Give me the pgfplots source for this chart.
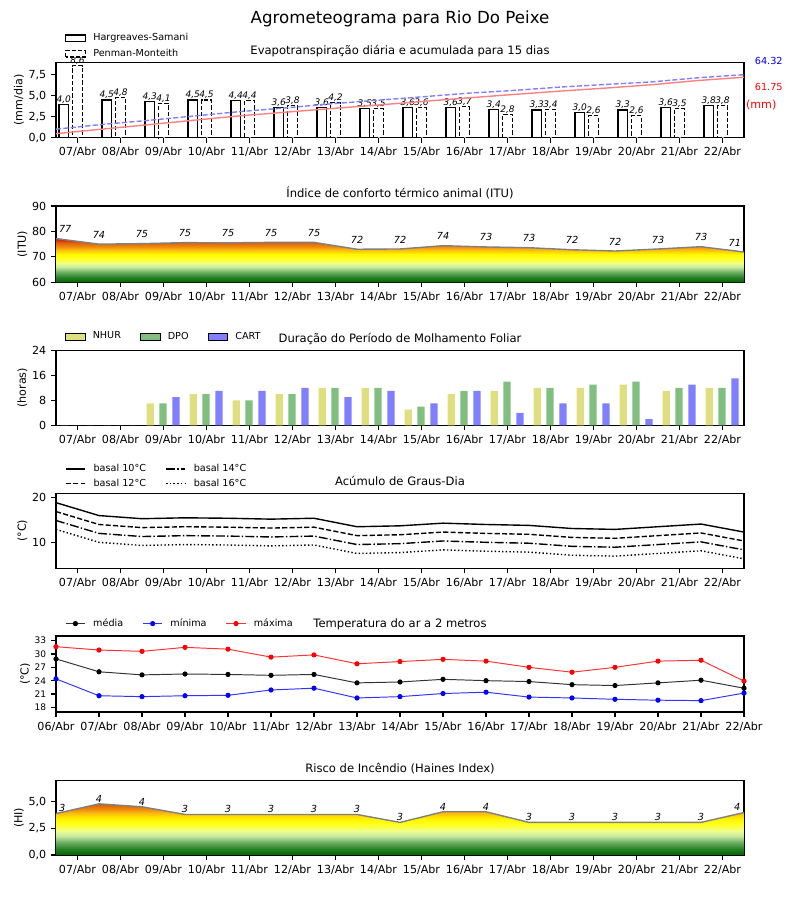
\documentclass[border=0pt]{standalone}
\usepackage{fontspec}
\setmainfont{DejaVu Sans}
\usepackage{pgfplots}
\pgfplotsset{compat=1.18}
\usepackage{pgfplotstable}

\definecolor{nhur}{RGB}{223,223,128}
\definecolor{dpo}{RGB}{128,191,128}
\definecolor{cart}{RGB}{128,128,255}
\definecolor{cumb}{RGB}{128,128,255}
\definecolor{cumr}{RGB}{255,128,128}
\definecolor{outl}{RGB}{128,128,128}
\definecolor{g0}{RGB}{0,100,0}
\definecolor{g1}{RGB}{40,130,40}
\definecolor{g2}{RGB}{110,175,100}
\definecolor{g3}{RGB}{200,235,160}
\definecolor{g4}{RGB}{240,255,140}
\definecolor{g5}{RGB}{255,255,40}
\definecolor{g6}{RGB}{255,250,0}
\definecolor{g7}{RGB}{255,215,0}
\definecolor{g8}{RGB}{250,180,20}
\definecolor{g9}{RGB}{240,140,10}
\definecolor{g10}{RGB}{225,100,10}
\definecolor{g11}{RGB}{205,20,0}
\definecolor{h10}{RGB}{215,90,10}

\pgfdeclareverticalshading{itushade}{100bp}{color(0bp)=(g0); color(25bp)=(g0); color(30.81bp)=(g1); color(36.63bp)=(g2); color(42.44bp)=(g3); color(46.8bp)=(g4); color(51.16bp)=(g5); color(56.98bp)=(g6); color(59.88bp)=(g7); color(62.79bp)=(g8); color(65.7bp)=(g9); color(70.06bp)=(g10); color(75bp)=(g11); color(100bp)=(g11)}
\pgfdeclareverticalshading{hishade}{100bp}{color(0bp)=(g0); color(25bp)=(g0); color(31.2bp)=(g1); color(37.4bp)=(g2); color(43.7bp)=(g3); color(48.9bp)=(g4); color(54bp)=(g5); color(59.2bp)=(g6); color(63.4bp)=(g7); color(66.5bp)=(g8); color(69.6bp)=(g9); color(75bp)=(h10); color(100bp)=(h10)}

\pgfplotsset{
  base/.style={
    scale only axis, width=495.36pt, anchor=south west,
    xmin=-0.5, xmax=15.5,
    tick align=outside, major tick length=3.5pt, tick pos=left,
    tick style={line width=0.8pt, black},
    axis line style={line width=0.8pt},
    ticklabel style={font=\fontsize{8}{9.6}\selectfont},
    /pgf/number format/assume math mode=true,
    every axis title/.style={at={(0.5,1)}, anchor=base, yshift=5.8pt, font=\fontsize{8.33}{10}\selectfont},
    ylabel style={font=\fontsize{8}{9.6}\selectfont},
    ylabel shift=-3.5pt,
    xtick={0,...,15},
    xticklabels={07/Abr,08/Abr,09/Abr,10/Abr,11/Abr,12/Abr,13/Abr,14/Abr,15/Abr,16/Abr,17/Abr,18/Abr,19/Abr,20/Abr,21/Abr,22/Abr},
    legend style={draw=none, fill=none, at={(0,1)}, anchor=south west, xshift=6.48pt, inner sep=0pt,
      font=\fontsize{6.94}{8}\selectfont, cells={anchor=west},
      /tikz/every even column/.append style={column sep=13.9pt},
      /tikz/every odd column/.append style={column sep=5.5pt},
      nodes={inner sep=0pt}},
  },
  commay/.style={yticklabel style={/pgf/number format/.cd, fixed, fixed zerofill, precision=1, use comma}},
  linelegend/.style={legend image code/.code={\draw[##1] (0pt,0pt) -- (13.9pt,0pt);}},
  marklegend/.style={legend image code/.code={\draw[mark repeat=2, mark phase=2, ##1] plot coordinates {(0pt,0pt) (6.95pt,0pt) (13.9pt,0pt)};}},
  patchlegend/.style={legend image code/.code={\draw[##1] (0pt,-2.4pt) rectangle (13.9pt,2.4pt);}},
  barlab/.style={draw=none, mark=none, forget plot, point meta=y,
    nodes near coords={\pgfmathprintnumber[fixed, fixed zerofill, precision=1, use comma]{\pgfplotspointmeta}},
    nodes near coords style={font=\fontsize{6.5}{7}\selectfont\itshape, anchor=south, inner sep=0.6pt}},
}

\begin{document}
\begin{tikzpicture}
\useasboundingbox (0,0) rectangle (576pt,648pt);
\node[font=\fontsize{12}{14}\selectfont, anchor=base] at (288pt,631.4pt) {Agrometeograma para Rio Do Peixe};

% ---------- Panel 1: Evapotranspiration ----------
\begin{axis}[base, at={(40.32pt,548.86pt)}, height=54.29pt,
  ymin=0, ymax=9, ytick={0,2.5,5,7.5}, commay,
  ylabel={(mm/dia)}, title={Evapotranspiração diária e acumulada para 15 dias},
  clip=false, legend style={yshift=2.6pt, row sep=4.3pt}]
\addplot[ybar, bar width=0.22, bar shift=-0.32, draw=black, fill=white, line width=0.8pt, patchlegend] coordinates {
(0,4.0) (1,4.5) (2,4.3) (3,4.5) (4,4.4) (5,3.6) (6,3.6) (7,3.5) (8,3.6) (9,3.6) (10,3.4) (11,3.3) (12,3.0) (13,3.3) (14,3.6) (15,3.8)};
\addplot[ybar, bar width=0.22, bar shift=0, draw=black, fill=white, line width=0.8pt, dash pattern=on 3pt off 1.5pt, patchlegend] coordinates {
(0,8.6) (1,4.8) (2,4.1) (3,4.5) (4,4.4) (5,3.8) (6,4.2) (7,3.5) (8,3.6) (9,3.7) (10,2.8) (11,3.4) (12,2.6) (13,2.6) (14,3.5) (15,3.8)};
\legend{Hargreaves-Samani, Penman-Monteith}
\addplot[barlab] coordinates {
(-0.32,4.0) (0.68,4.5) (1.68,4.3) (2.68,4.5) (3.68,4.4) (4.68,3.6) (5.68,3.6) (6.68,3.5) (7.68,3.6) (8.68,3.6) (9.68,3.4) (10.68,3.3) (11.68,3.0) (12.68,3.3) (13.68,3.6) (14.68,3.8)};
\addplot[barlab] coordinates {
(0,8.6) (1,4.8) (2,4.1) (3,4.5) (4,4.4) (5,3.8) (6,4.2) (7,3.5) (8,3.6) (9,3.7) (10,2.8) (11,3.4) (12,2.6) (13,2.6) (14,3.5) (15,3.8)};
\end{axis}
\begin{axis}[scale only axis, width=495.36pt, height=54.29pt, anchor=south west, at={(40.32pt,548.86pt)},
  xmin=-0.5, xmax=15.5, ymin=0, ymax=77, hide axis, clip=false]
\addplot[cumb, dash pattern=on 3.7pt off 1.6pt, line width=1pt] coordinates {
(-0.5,8.7) (0.567,13.5) (1.633,17.6) (2.7,22.1) (3.767,26.6) (4.833,30.4) (5.9,34.6) (6.967,38.2) (8.033,41.8) (9.1,45.5) (10.167,48.3) (11.233,51.7) (12.3,54.4) (13.367,57.0) (14.433,61.2) (15.5,64.32)};
\addplot[cumr, line width=1pt] coordinates {
(-0.5,4.1) (0.567,8.7) (1.633,13.2) (2.7,17.8) (3.767,22.3) (4.833,26.0) (5.9,29.7) (6.967,33.3) (8.033,37.0) (9.1,40.7) (10.167,44.2) (11.233,47.6) (12.3,50.7) (13.367,54.1) (14.433,58.4) (15.5,61.75)};
\node[font=\fontsize{7}{8}\selectfont, text=blue] at (rel axis cs:1.036,1.017) {64.32};
\node[font=\fontsize{7}{8}\selectfont, text=red] at (rel axis cs:1.036,0.672) {61.75};
\node[font=\fontsize{8}{9.6}\selectfont, text=red] at (rel axis cs:1.025,0.433) {(mm)};
\end{axis}

% ---------- Panel 2: ITU ----------
\begin{axis}[base, at={(40.32pt,444.74pt)}, height=54.94pt,
  ymin=60, ymax=90, ytick={60,70,80,90},
  ylabel={(ITU)}, title={Índice de conforto térmico animal (ITU)}]
\addplot[draw=none, shading=itushade] coordinates {
(-0.5,60) (-0.5,77.2) (0.5,75.0) (1.5,75.2) (2.5,75.6) (3.5,75.5) (4.5,75.7) (5.5,75.7) (6.5,73.0) (7.5,73.1) (8.5,74.4) (9.5,73.9) (10.5,73.6) (11.5,72.8) (12.5,72.3) (13.5,73.1) (14.5,74.0) (15.5,71.9) (15.5,60)};
\addplot[outl, line width=1pt] coordinates {
(-0.5,77.2) (0.5,75.0) (1.5,75.2) (2.5,75.6) (3.5,75.5) (4.5,75.7) (5.5,75.7) (6.5,73.0) (7.5,73.1) (8.5,74.4) (9.5,73.9) (10.5,73.6) (11.5,72.8) (12.5,72.3) (13.5,73.1) (14.5,74.0) (15.5,71.9)};
\addplot[draw=none, mark=none, nodes near coords, point meta=explicit symbolic,
  nodes near coords style={font=\fontsize{7}{8}\selectfont\itshape, anchor=south, inner sep=0pt, yshift=4pt}]
  table[x=x, y=y, meta=l] {
x y l
0.5 75.0 74
1.5 75.2 75
2.5 75.6 75
3.5 75.5 75
4.5 75.7 75
5.5 75.7 75
6.5 73.0 72
7.5 73.1 72
8.5 74.4 74
9.5 73.9 73
10.5 73.6 73
11.5 72.8 72
12.5 72.3 72
13.5 73.1 73
14.5 74.0 73
};
\addplot[draw=none, mark=none, nodes near coords, point meta=explicit symbolic,
  nodes near coords style={font=\fontsize{7}{8}\selectfont\itshape, anchor=south west, inner sep=0pt, yshift=4pt, xshift=2pt}]
  table[x=x, y=y, meta=l] {
x y l
-0.5 77.2 77
};
\addplot[draw=none, mark=none, nodes near coords, point meta=explicit symbolic,
  nodes near coords style={font=\fontsize{7}{8}\selectfont\itshape, anchor=south east, inner sep=0pt, yshift=4pt, xshift=-2pt}]
  table[x=x, y=y, meta=l] {
x y l
15.5 71.9 71
};
\end{axis}

% ---------- Panel 3: Leaf wetness ----------
\begin{axis}[base, at={(40.32pt,341.78pt)}, height=54pt,
  ymin=0, ymax=24, ytick={0,8,16,24},
  ylabel={(horas)}, title={Duração do Período de Molhamento Foliar},
  legend columns=3, legend style={yshift=6.4pt}]
\addplot[ybar, bar width=0.17, bar shift=-0.31, fill=nhur, draw=none, patchlegend] coordinates {
(0,0) (1,0) (2,7) (3,10) (4,8) (5,10) (6,12) (7,12) (8,5) (9,10) (10,11) (11,12) (12,12) (13,13) (14,11) (15,12)};
\addplot[ybar, bar width=0.17, bar shift=-0.01, fill=dpo, draw=none, patchlegend] coordinates {
(0,0) (1,0) (2,7) (3,10) (4,8) (5,10) (6,12) (7,12) (8,6) (9,11) (10,14) (11,12) (12,13) (13,14) (14,12) (15,12)};
\addplot[ybar, bar width=0.17, bar shift=0.29, fill=cart, draw=none, patchlegend] coordinates {
(0,0) (1,0) (2,9) (3,11) (4,11) (5,12) (6,9) (7,11) (8,7) (9,11) (10,4) (11,7) (12,7) (13,2) (14,13) (15,15)};
\legend{NHUR, DPO, CART}
\end{axis}

% ---------- Panel 4: Degree days ----------
\begin{axis}[base, at={(40.32pt,238.82pt)}, height=54pt,
  ymin=4.17, ymax=21, ytick={10,20},
  ylabel={(°C)}, title={Acúmulo de Graus-Dia},
  legend columns=2, legend style={yshift=3.3pt, row sep=3.8pt}]
\addplot[black, line width=1pt, linelegend] coordinates {
(-0.5,18.9) (0.5,16.0) (1.5,15.3) (2.5,15.5) (3.5,15.4) (4.5,15.2) (5.5,15.4) (6.5,13.5) (7.5,13.7) (8.5,14.3) (9.5,14.0) (10.5,13.8) (11.5,13.1) (12.5,12.9) (13.5,13.5) (14.5,14.1) (15.5,12.3)};
\addplot[black, line width=1pt, dash pattern=on 6.4pt off 1.6pt on 1pt off 1.6pt, linelegend] coordinates {
(-0.5,14.9) (0.5,12.0) (1.5,11.3) (2.5,11.5) (3.5,11.4) (4.5,11.2) (5.5,11.4) (6.5,9.5) (7.5,9.7) (8.5,10.3) (9.5,10.0) (10.5,9.8) (11.5,9.1) (12.5,8.9) (13.5,9.5) (14.5,10.1) (15.5,8.3)};
\addplot[black, line width=1pt, dash pattern=on 3.7pt off 1.6pt, linelegend] coordinates {
(-0.5,16.9) (0.5,14.0) (1.5,13.3) (2.5,13.5) (3.5,13.4) (4.5,13.2) (5.5,13.4) (6.5,11.5) (7.5,11.7) (8.5,12.3) (9.5,12.0) (10.5,11.8) (11.5,11.1) (12.5,10.9) (13.5,11.5) (14.5,12.1) (15.5,10.3)};
\addplot[black, line width=1pt, dash pattern=on 1pt off 1.65pt, linelegend] coordinates {
(-0.5,12.9) (0.5,10.0) (1.5,9.3) (2.5,9.5) (3.5,9.4) (4.5,9.2) (5.5,9.4) (6.5,7.5) (7.5,7.7) (8.5,8.3) (9.5,8.0) (10.5,7.8) (11.5,7.1) (12.5,6.9) (13.5,7.5) (14.5,8.1) (15.5,6.3)};
\legend{basal 10°C, basal 14°C, basal 12°C, basal 16°C}
\end{axis}

% ---------- Panel 5: Temperature ----------
\begin{axis}[base, at={(40.32pt,135.36pt)}, height=54.72pt,
  ymin=16.94, ymax=34.06, ytick={18,21,24,27,30,33},
  yticklabel style={font=\fontsize{6.5}{7.5}\selectfont},
  xtick={-0.5,0.5,1.5,2.5,3.5,4.5,5.5,6.5,7.5,8.5,9.5,10.5,11.5,12.5,13.5,14.5,15.5},
  xticklabels={06/Abr,07/Abr,08/Abr,09/Abr,10/Abr,11/Abr,12/Abr,13/Abr,14/Abr,15/Abr,16/Abr,17/Abr,18/Abr,19/Abr,20/Abr,21/Abr,22/Abr},
  ylabel={(°C)}, title={Temperatura do ar a 2 metros},
  legend columns=3, legend style={yshift=5.2pt}]
\addplot[black!80, line width=0.7pt, mark=*, mark size=1.5pt, mark options={solid, fill=black, draw=black}, marklegend] coordinates {
(-0.5,28.9) (0.5,26.0) (1.5,25.3) (2.5,25.5) (3.5,25.4) (4.5,25.2) (5.5,25.4) (6.5,23.5) (7.5,23.7) (8.5,24.3) (9.5,24.0) (10.5,23.8) (11.5,23.1) (12.5,22.9) (13.5,23.5) (14.5,24.1) (15.5,22.3)};
\addplot[blue!80, line width=0.7pt, mark=*, mark size=1.5pt, mark options={solid, fill=blue, draw=blue}, marklegend] coordinates {
(-0.5,24.4) (0.5,20.6) (1.5,20.4) (2.5,20.6) (3.5,20.7) (4.5,21.9) (5.5,22.3) (6.5,20.1) (7.5,20.4) (8.5,21.1) (9.5,21.4) (10.5,20.3) (11.5,20.1) (12.5,19.8) (13.5,19.6) (14.5,19.5) (15.5,21.2)};
\addplot[red!80, line width=0.7pt, mark=*, mark size=1.5pt, mark options={solid, fill=red, draw=red}, marklegend] coordinates {
(-0.5,31.65) (0.5,30.9) (1.5,30.6) (2.5,31.5) (3.5,31.1) (4.5,29.3) (5.5,29.8) (6.5,27.8) (7.5,28.3) (8.5,28.8) (9.5,28.4) (10.5,27.0) (11.5,25.9) (12.5,27.0) (13.5,28.4) (14.5,28.6) (15.5,23.9)};
\legend{média, mínima, máxima}
\end{axis}

% ---------- Panel 6: Haines ----------
\begin{axis}[base, at={(40.32pt,32.4pt)}, height=53.5pt,
  ymin=0, ymax=7, ytick={0,2.5,5}, commay,
  ylabel={(HI)}, title={Risco de Incêndio (Haines Index)}]
\addplot[draw=none, shading=hishade] coordinates {
(-0.5,0) (-0.5,3.9) (0.5,4.82) (1.5,4.54) (2.5,3.82) (3.5,3.82) (4.5,3.82) (5.5,3.82) (6.5,3.82) (7.5,3.07) (8.5,4.07) (9.5,4.07) (10.5,3.07) (11.5,3.07) (12.5,3.07) (13.5,3.07) (14.5,3.07) (15.5,4.0) (15.5,0)};
\addplot[outl, line width=1pt] coordinates {
(-0.5,3.9) (0.5,4.82) (1.5,4.54) (2.5,3.82) (3.5,3.82) (4.5,3.82) (5.5,3.82) (6.5,3.82) (7.5,3.07) (8.5,4.07) (9.5,4.07) (10.5,3.07) (11.5,3.07) (12.5,3.07) (13.5,3.07) (14.5,3.07) (15.5,4.0)};
\addplot[draw=none, mark=none, nodes near coords, point meta=explicit symbolic,
  nodes near coords style={font=\fontsize{7}{8}\selectfont\itshape, anchor=south, inner sep=0pt, yshift=1pt}]
  table[x=x, y=y, meta=l] {
x y l
0.5 4.82 4
1.5 4.54 4
2.5 3.82 3
3.5 3.82 3
4.5 3.82 3
5.5 3.82 3
6.5 3.82 3
7.5 3.07 3
8.5 4.07 4
9.5 4.07 4
10.5 3.07 3
11.5 3.07 3
12.5 3.07 3
13.5 3.07 3
14.5 3.07 3
};
\addplot[draw=none, mark=none, nodes near coords, point meta=explicit symbolic,
  nodes near coords style={font=\fontsize{7}{8}\selectfont\itshape, anchor=south west, inner sep=0pt, yshift=1pt, xshift=2pt}]
  table[x=x, y=y, meta=l] {
x y l
-0.5 3.9 3
};
\addplot[draw=none, mark=none, nodes near coords, point meta=explicit symbolic,
  nodes near coords style={font=\fontsize{7}{8}\selectfont\itshape, anchor=south east, inner sep=0pt, yshift=1pt, xshift=-2.5pt}]
  table[x=x, y=y, meta=l] {
x y l
15.5 4.0 4
};
\end{axis}
\end{tikzpicture}
\end{document}
